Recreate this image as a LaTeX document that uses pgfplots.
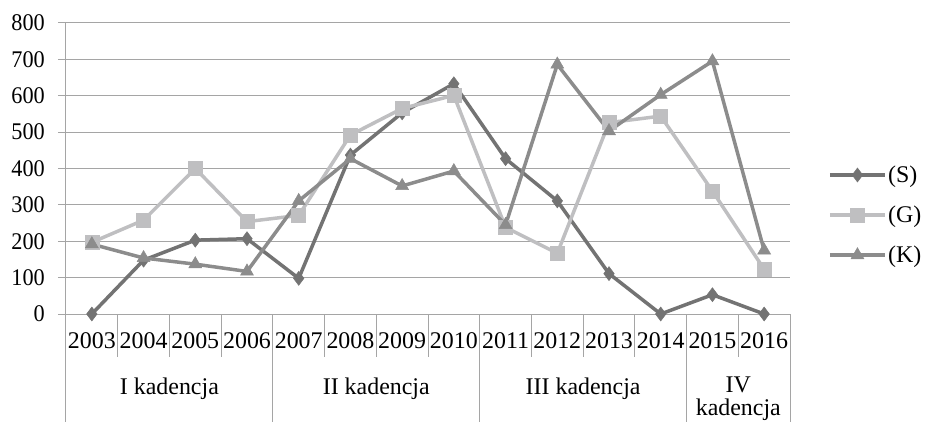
\documentclass[border=0pt]{standalone}
\usepackage{fontspec}
\setmainfont{Liberation Serif}
\newfontfamily\yfont{Liberation Serif}[FakeStretch=0.93]
\usepackage{pgfplots}
\pgfplotsset{compat=1.18}
\definecolor{cS}{RGB}{115,115,115}
\definecolor{cG}{RGB}{191,191,193}
\definecolor{cK}{RGB}{140,140,140}
\definecolor{gridc}{RGB}{165,165,165}
\newcommand{\ff}{\fontsize{24}{28}\selectfont}
\begin{document}
\begin{tikzpicture}
\begin{axis}[
  at={(0,0)}, anchor=south west,
  width=724bp, height=291bp, scale only axis,
  xmin=-0.5, xmax=13.5, ymin=0, ymax=800,
  clip=false,
  axis lines*=left,
  axis line style={gridc, line width=1bp},
  xtick={0,...,13},
  xticklabels={2003,2004,2005,2006,2007,2008,2009,2010,2011,2012,2013,2014,2015,2016},
  major x tick style={draw=none},
  ytick={0,100,...,800},
  tick align=outside,
  major tick length=8bp,
  y tick style={gridc, line width=1bp},
  ymajorgrids,
  major grid style={gridc, line width=1bp},
  /pgf/number format/assume math mode=true,
  xticklabel style={font=\ff, anchor=center, inner sep=0pt, yshift=-19bp},
  yticklabel style={font=\yfont\ff, anchor=east, inner sep=0pt, xshift=-13bp},
  legend style={draw=none, fill=none, at={(1,0.34)}, anchor=west, xshift=38bp,
    font=\ff, row sep=19bp, inner sep=0bp, nodes={inner sep=1.5bp}},
  legend cell align=left,
  legend image code/.code={\draw[#1, mark repeat=2, mark phase=2] plot coordinates {(0bp,0bp) (27.5bp,0bp) (55bp,0bp)};},
]
\addplot[cS, line width=3.5bp, mark=diamond*, mark size=7bp, mark options={solid, fill=cS, draw=cS, line width=0.5bp}]
coordinates {(0,0) (1,148) (2,203) (3,207) (4,98) (5,437) (6,553) (7,633) (8,427) (9,311) (10,111) (11,0) (12,53) (13,0)};
\addlegendentry{(S)}
\addplot[cG, line width=3.5bp, mark=square*, mark size=7bp, mark options={solid, fill=cG, draw=cG, line width=0.5bp}]
coordinates {(0,197) (1,258) (2,400) (3,254) (4,271) (5,492) (6,565) (7,601) (8,238) (9,167) (10,526) (11,544) (12,338) (13,123)};
\addlegendentry{(G)}
\addplot[cK, line width=3.5bp, mark=triangle*, mark size=7.5bp, mark options={solid, fill=cK, draw=cK, line width=0.5bp}]
coordinates {(0,192) (1,154) (2,137) (3,117) (4,311) (5,427) (6,352) (7,393) (8,245) (9,686) (10,503) (11,603) (12,695) (13,175)};
\addlegendentry{(K)}
\pgfplotsinvokeforeach{-0.5,0.5,1.5,2.5,3.5,4.5,5.5,6.5,7.5,8.5,9.5,10.5,11.5,12.5,13.5}{
  \draw[gridc, line width=1bp] (axis cs:#1,0) -- ++(0pt,-43bp);
}
\pgfplotsinvokeforeach{-0.5,3.5,7.5,11.5,13.5}{
  \draw[gridc, line width=1bp] (axis cs:#1,0) -- ++(0pt,-110bp);
}
\node[font=\ff, anchor=base, inner sep=0pt] at (axis cs:1.5,0) [yshift=-80bp] {I kadencja};
\node[font=\ff, anchor=base, inner sep=0pt] at (axis cs:5.5,0) [yshift=-80bp] {II kadencja};
\node[font=\ff, anchor=base, inner sep=0pt] at (axis cs:9.5,0) [yshift=-80bp] {III kadencja};
\node[font=\ff, anchor=base, inner sep=0pt] at (axis cs:12.5,0) [yshift=-78bp] {IV};
\node[font=\ff, anchor=base, inner sep=0pt] at (axis cs:12.5,0) [yshift=-101.5bp] {kadencja};
\end{axis}
\pgfresetboundingbox
\useasboundingbox (-66bp,-108bp) rectangle (859bp,314bp);
\end{tikzpicture}
\end{document}
